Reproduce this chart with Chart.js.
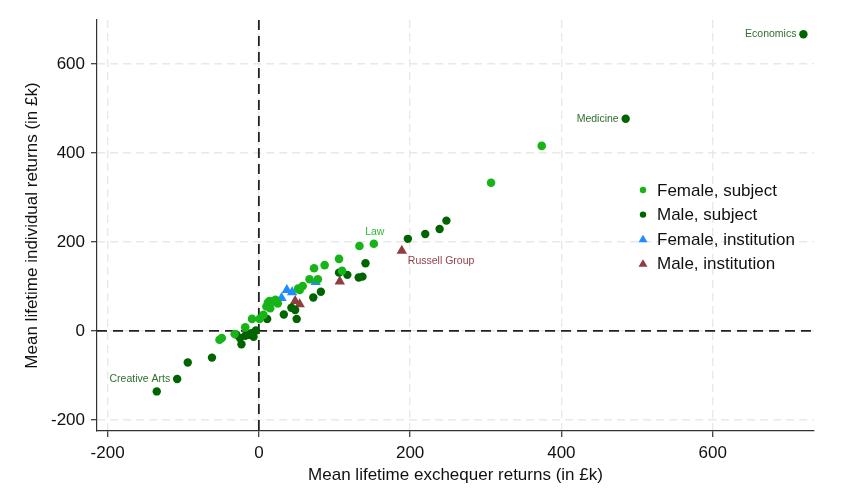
<!DOCTYPE html>
<html>
<head>
<meta charset="utf-8">
<script src="https://cdn.jsdelivr.net/npm/chart.js@4/dist/chart.umd.min.js"></script>
<style>
  html, body { margin: 0; padding: 0; background: #fff; }
  #wrap { width: 848px; height: 501px; }
</style>
</head>
<body>
<div id="wrap"><canvas id="c" width="848" height="501"></canvas></div>
<script>
// ── Data (values in £k) ───────────────────────────────────
const femaleSubjX = [-52, -49, -32, -18, -9, 1, 6, 10, 14, 19, 25, 15, 12, 22, 54, 58, 52, 67, 78, 73, 87, 106, 110, 133, 152, 307, 374];
const femaleSubjY = [-20, -16, -7, 8, 27, 27, 36, 55, 67, 66, 62, 51, 64, 70, 92, 101, 95, 116, 116, 141, 148, 162, 135, 191, 196, 333, 416];

const maleSubjX = [-135, -108, -94, -62, -30, -25, -23, -18, -14, -10, -7, -4, 11, 33, 43, 48, 50, 72, 82, 106, 117, 132, 137, 141, 197, 220, 239, 248, 485, 720];
const maleSubjY = [-136, -108, -71, -60, -8, -16, -30, -11, -9, -5, -13, 1, 27, 37, 52, 47, 27, 75, 88, 131, 126, 120, 122, 152, 207, 218, 229, 248, 477, 667];

const femaleInstX = [30, 37, 44, 75];
const femaleInstY = [74, 92, 87, 110];

const maleInstX = [48, 54, 107, 189];
const maleInstY = [67, 60, 111, 180];

const seriesNames = ['Female, subject', 'Male, subject', 'Female, institution', 'Male, institution'];
const tickValues = [-200, 0, 200, 400, 600];

// labelled points: [dataset index, point index, text]
const pointLabels = [
  [1, 29, 'Economics'],
  [1, 28, 'Medicine'],
  [1, 1, 'Creative Arts'],
  [0, 24, 'Law'],
  [3, 3, 'Russell Group'],
];

const COL = {
  light:  '#17b417',
  dark:   '#006400',
  blue:   '#1e8cff',
  maroon: '#903c40',
  darkTxt:'#2f6e2f',
  lawTxt: '#35b535',
  rgTxt:  '#8f3f46',
  grid:   '#e8e8e8',
  axis:   '#333333',
};
const FONT = 'Arial, "Liberation Sans", sans-serif';

const pts = (xs, ys) => xs.map((x, i) => ({ x, y: ys[i] }));

// ── Plugins ───────────────────────────────────────
const zeroLines = {
  id: 'zeroLines',
  beforeDatasetsDraw(chart) {
    const { ctx, chartArea: a, scales: { x, y } } = chart;
    const x0 = x.getPixelForValue(0), y0 = y.getPixelForValue(0);
    ctx.save();
    ctx.strokeStyle = '#222';
    ctx.lineWidth = 1.8;
    ctx.setLineDash([10, 6]);
    ctx.beginPath();
    ctx.moveTo(x0, a.top); ctx.lineTo(x0, a.bottom);
    ctx.moveTo(a.left, y0); ctx.lineTo(a.right, y0);
    ctx.stroke();
    ctx.restore();
  },
};

const labelPlugin = {
  id: 'labelPlugin',
  afterDatasetsDraw(chart) {
    const { ctx } = chart;
    ctx.save();
    ctx.font = '10.5px ' + FONT;
    pointLabels.forEach(([ds, idx, text]) => {
      const el = chart.getDatasetMeta(ds).data[idx];
      if (!el) return;
      const px = el.x, py = el.y;
      if (text === 'Law') {
        ctx.fillStyle = COL.lawTxt; ctx.textAlign = 'center'; ctx.textBaseline = 'bottom';
        ctx.fillText(text, px + 1, py - 6);
      } else if (text === 'Russell Group') {
        ctx.fillStyle = COL.rgTxt; ctx.textAlign = 'left'; ctx.textBaseline = 'middle';
        ctx.fillText(text, px + 6, py + 10);
      } else {
        ctx.fillStyle = COL.darkTxt; ctx.textAlign = 'right'; ctx.textBaseline = 'middle';
        ctx.fillText(text, px - 7, py);
      }
    });
    ctx.restore();
  },
};

const legendPlugin = {
  id: 'legendPlugin',
  afterDraw(chart) {
    const { ctx } = chart;
    const x0 = 643, y0 = 190, step = 24.6;
    ctx.save();
    ctx.font = '17px ' + FONT;
    ctx.textBaseline = 'middle';
    ctx.textAlign = 'left';
    chart.data.datasets.forEach((d, i) => {
      const y = y0 + i * step;
      ctx.fillStyle = d.backgroundColor;
      ctx.beginPath();
      if (d.pointStyle === 'triangle') {
        ctx.moveTo(x0, y - 4.5); ctx.lineTo(x0 + 4.5, y + 3); ctx.lineTo(x0 - 4.5, y + 3);
        ctx.closePath();
      } else {
        ctx.arc(x0, y, 3.2, 0, Math.PI * 2);
      }
      ctx.fill();
      ctx.fillStyle = '#111';
      ctx.fillText(d.label, x0 + 14, y + 1);
    });
    ctx.restore();
  },
};

// ── Chart ─────────────────────────────────────────
const mk = (label, data, color, style, r) => ({
  label, data,
  backgroundColor: color, borderColor: color, borderWidth: 0,
  pointStyle: style, pointRadius: r, pointHoverRadius: r,
});

const axisCommon = (title, titlePad) => ({
  type: 'linear',
  afterBuildTicks: s => { s.ticks = tickValues.map(v => ({ value: v })); },
  grid: {
    color: COL.grid, lineWidth: 1.4,
    drawTicks: true, tickLength: 6, tickColor: COL.axis, tickWidth: 1.2, tickBorderDash: [],
  },
  border: { display: true, color: COL.axis, width: 1.2, dash: [8, 5] },
  ticks: { color: '#111', font: { family: FONT, size: 17 }, padding: 6 },
  title: { display: true, text: title, color: '#111', font: { family: FONT, size: 17 }, padding: titlePad },
});

new Chart(document.getElementById('c'), {
  type: 'scatter',
  data: {
    datasets: [
      mk(seriesNames[0], pts(femaleSubjX, femaleSubjY), COL.light, 'circle', 4.3),
      mk(seriesNames[1], pts(maleSubjX, maleSubjY), COL.dark, 'circle', 4.2),
      mk(seriesNames[2], pts(femaleInstX, femaleInstY), COL.blue, 'triangle', 6),
      mk(seriesNames[3], pts(maleInstX, maleInstY), COL.maroon, 'triangle', 6),
    ],
  },
  options: {
    responsive: false,
    animation: false,
    devicePixelRatio: 1,
    layout: { padding: { top: 20, right: 34, left: 0, bottom: 0 } },
    plugins: { legend: { display: false }, tooltip: { enabled: false } },
    scales: {
      x: {
        ...axisCommon('Mean lifetime exchequer returns (in £k)', { top: 0, bottom: 15 }),
        min: -214, max: 734,
        afterFit: s => { s.height = 70; },
      },
      y: {
        ...axisCommon('Mean lifetime individual returns (in £k)', { top: 22, bottom: 0 }),
        min: -225, max: 699,
        afterFit: s => { s.width = 97; },
      },
    },
  },
  plugins: [zeroLines, labelPlugin, legendPlugin],
});
</script>
</body>
</html>
